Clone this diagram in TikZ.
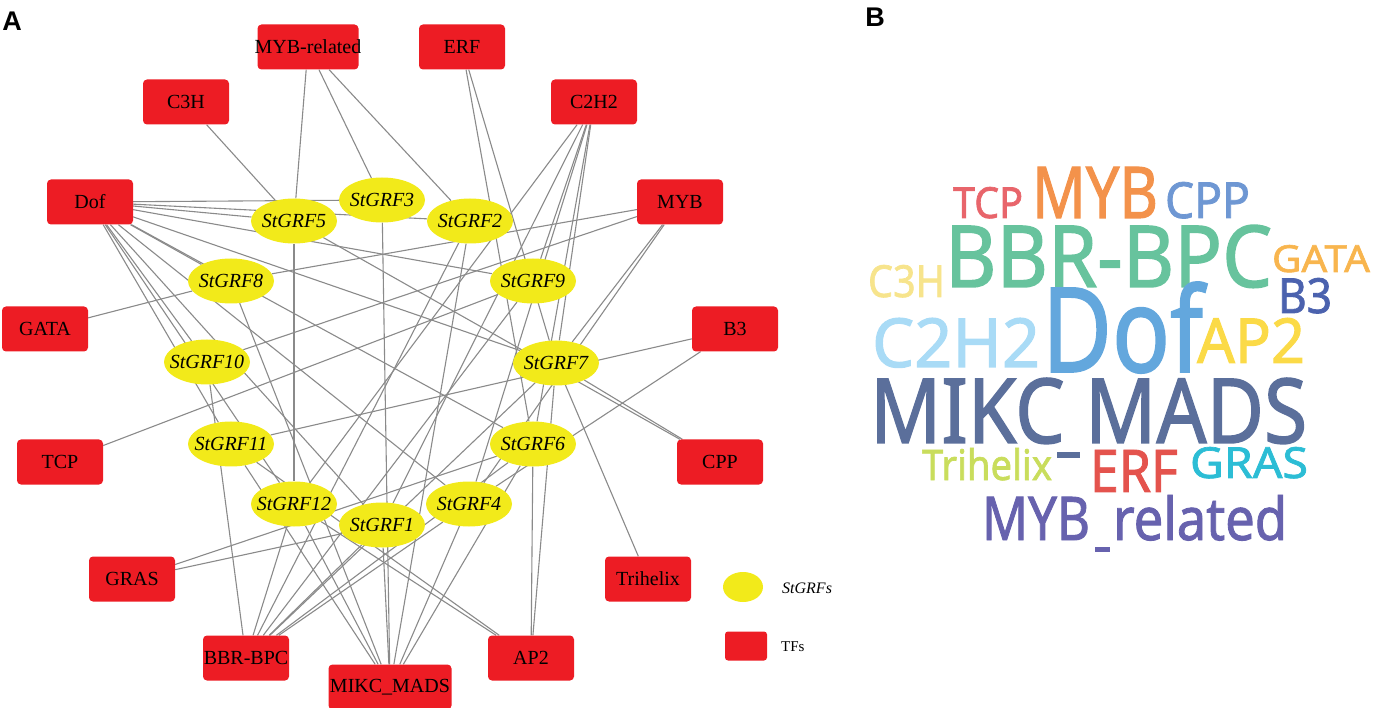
\documentclass[tikz,border=0pt]{standalone}
\usepackage{fontspec}
\setmainfont{Liberation Serif}
\newfontfamily\cloudfont[FakeBold=1.6]{Noto Sans}
\newfontfamily\labfont{Liberation Sans}
\usetikzlibrary{shapes.geometric,backgrounds}
\definecolor{tfred}{HTML}{ED1C24}
\definecolor{grfyel}{HTML}{F2EA1A}
\definecolor{edgegray}{HTML}{8A8A8A}
\definecolor{cTCP}{HTML}{E8656B}
\definecolor{cMYB}{HTML}{F3924B}
\definecolor{cCPP}{HTML}{6E97D3}
\definecolor{cBBR}{HTML}{67C39D}
\definecolor{cGATA}{HTML}{F8B54E}
\definecolor{cCTH}{HTML}{F7E48C}
\definecolor{cBT}{HTML}{4B62AE}
\definecolor{cCTT}{HTML}{A9DBF6}
\definecolor{cDof}{HTML}{63A7DD}
\definecolor{cAP}{HTML}{FBDA47}
\definecolor{cMIKC}{HTML}{5B6F9B}
\definecolor{cTri}{HTML}{C9DD5C}
\definecolor{cERF}{HTML}{E4534D}
\definecolor{cGRAS}{HTML}{2CBDD5}
\definecolor{cMYBr}{HTML}{6762AE}
\newcommand{\zw}[1]{\makebox[0pt]{#1}}
\newcommand{\cw}[4]{\resizebox{#1pt}{#2pt}{\cloudfont\color{#3}#4}}
\tikzset{
  tf/.style={fill=tfred, rounded corners=4pt, minimum width=86pt, minimum height=45pt, inner sep=0pt, font=\fontsize{20}{24}\selectfont},
  grf/.style={ellipse, fill=grfyel, minimum width=86pt, minimum height=45pt, inner sep=0pt, font=\fontsize{20}{24}\selectfont\itshape},
  edge/.style={draw=edgegray, line width=1.1pt},
  cloud/.style={anchor=base west, inner sep=0pt, outer sep=0pt},
  panel/.style={font=\labfont\bfseries\fontsize{27}{30}\selectfont, anchor=center, inner sep=0pt}
}
\begin{document}
\begin{tikzpicture}[x=1pt,y=-1pt]
\useasboundingbox (0,0) rectangle (1390,708);
% panel labels
\node[panel] (lA) at (12,21) {A};
\node[panel] (lB) at (875,17) {B};
% TF nodes
\node[tf, minimum width=101pt] (MYBrel) at (308,47) {\zw{MYB-related}};
\node[tf] (ERF) at (462,47) {ERF};
\node[tf] (C3H) at (186,102) {C3H};
\node[tf] (C2H2) at (594,102) {C2H2};
\node[tf] (Dof) at (90,202) {Dof};
\node[tf] (MYB) at (680,202) {MYB};
\node[tf] (GATA) at (45,329) {GATA};
\node[tf] (B3) at (735,329) {B3};
\node[tf] (TCP) at (60,462) {TCP};
\node[tf] (CPP) at (720,462) {CPP};
\node[tf] (GRAS) at (132,579) {GRAS};
\node[tf] (Tri) at (648,579) {\zw{Trihelix}};
\node[tf] (BBR) at (246,658) {\zw{BBR-BPC}};
\node[tf] (AP2) at (531,658) {AP2};
\node[tf, minimum width=123pt] (MIKC) at (390,687) {\zw{MIKC\_MADS}};
% GRF nodes
\node[grf] (g5) at (294,221) {\zw{StGRF5}};
\node[grf] (g3) at (382,200) {\zw{StGRF3}};
\node[grf] (g2) at (470,221) {\zw{StGRF2}};
\node[grf] (g8) at (231,281) {\zw{StGRF8}};
\node[grf] (g9) at (533,281) {\zw{StGRF9}};
\node[grf] (g10) at (207,362) {\zw{StGRF10}};
\node[grf] (g7) at (556,363) {\zw{StGRF7}};
\node[grf] (g11) at (231,444) {\zw{StGRF11}};
\node[grf] (g6) at (533,444) {\zw{StGRF6}};
\node[grf] (g12) at (294,504) {\zw{StGRF12}};
\node[grf] (g1) at (382,525) {\zw{StGRF1}};
\node[grf] (g4) at (469,504) {\zw{StGRF4}};
% legend
\node[grf, minimum width=40pt, minimum height=30pt] (legG) at (743,587) {};
\node[anchor=west, inner sep=0pt, font=\fontsize{16}{18}\selectfont\itshape] (legGt) at (782,588) {StGRFs};
\node[tf, minimum width=42pt, minimum height=29pt, rounded corners=3pt] (legT) at (746,646) {};
\node[anchor=west, inner sep=0pt, font=\fontsize{15}{18}\selectfont] (legTt) at (781,647) {TFs};
% edges
\begin{pgfonlayer}{background}
\foreach \a/\b in {C3H/g5,
  MYBrel/g5, MYBrel/g3, MYBrel/g2,
  ERF/g6, ERF/g7,
  C2H2/g9, C2H2/g7, C2H2/g6, C2H2/g4, C2H2/g1, C2H2/g12,
  MYB/g8, MYB/g10, MYB/g7, MYB/g4,
  Dof/g3, Dof/g5, Dof/g2, Dof/g9, Dof/g7, Dof/g8, Dof/g6, Dof/g4, Dof/g10, Dof/g11, Dof/g12, Dof/g1,
  GATA/g8, B3/g11, B3/g4, TCP/g9, CPP/g7, CPP/g5, GRAS/g6, GRAS/g1, Tri/g7,
  BBR/g10, BBR/g12, BBR/g1, BBR/g4, BBR/g6, BBR/g7, BBR/g9, BBR/g2,
  AP2/g6, AP2/g7, AP2/g12, AP2/g11,
  MIKC/g8, MIKC/g11, MIKC/g12, MIKC/g1, MIKC/g3, MIKC/g2, MIKC/g4, MIKC/g6,
  g5/g12}
  \draw[edge] (\a) -- (\b);
\end{pgfonlayer}
% word cloud
\node[cloud] (wTCP) at (953,218) {\cw{70}{31}{cTCP}{TCP}};
\node[cloud] (wMYB) at (1032,218) {\cw{126}{51}{cMYB}{MYB}};
\node[cloud] (wCPP) at (1165,218) {\cw{85}{36}{cCPP}{CPP}};
\node[cloud] (wBBR) at (945,287) {\cw{327}{62}{cBBR}{BBR-BPC}};
\node[cloud] (wGATA) at (1272,272) {\cw{98}{27}{cGATA}{GATA}};
\node[cloud] (wC3H) at (868,297) {\cw{77}{32}{cCTH}{C3H}};
\node[cloud] (wB3) at (1278,313) {\cw{54}{35}{cBT}{B3}};
\node[cloud] (wC2H2) at (872,367) {\cw{168}{49}{cCTT}{C2H2}};
\node[cloud] (wDof) at (1042,372) {\cw{161}{90}{cDof}{Dof}};
\node[cloud] (wAP2) at (1197,363) {\cw{108}{45}{cAP}{AP2}};
\node[cloud] (wMIKC) at (870,443) {\cw{437}{65}{cMIKC}{MIKC MADS}};
\fill[cMIKC] (1057,452) rectangle (1080,458);
\node[cloud] (wTri) at (922,480) {\cw{130}{32}{cTri}{Trihelix}};
\node[cloud] (wERF) at (1090,492) {\cw{88}{42}{cERF}{ERF}};
\node[cloud] (wGRAS) at (1190,478) {\cw{118}{31}{cGRAS}{GRAS}};
\node[cloud] (wMYBr1) at (982,540) {\cw{108}{43}{cMYBr}{MYB}};
\node[cloud] (wMYBr2) at (1113,540) {\cw{174}{45}{cMYBr}{related}};
\fill[cMYBr] (1095,547) rectangle (1110,552);
\end{tikzpicture}
\end{document}
